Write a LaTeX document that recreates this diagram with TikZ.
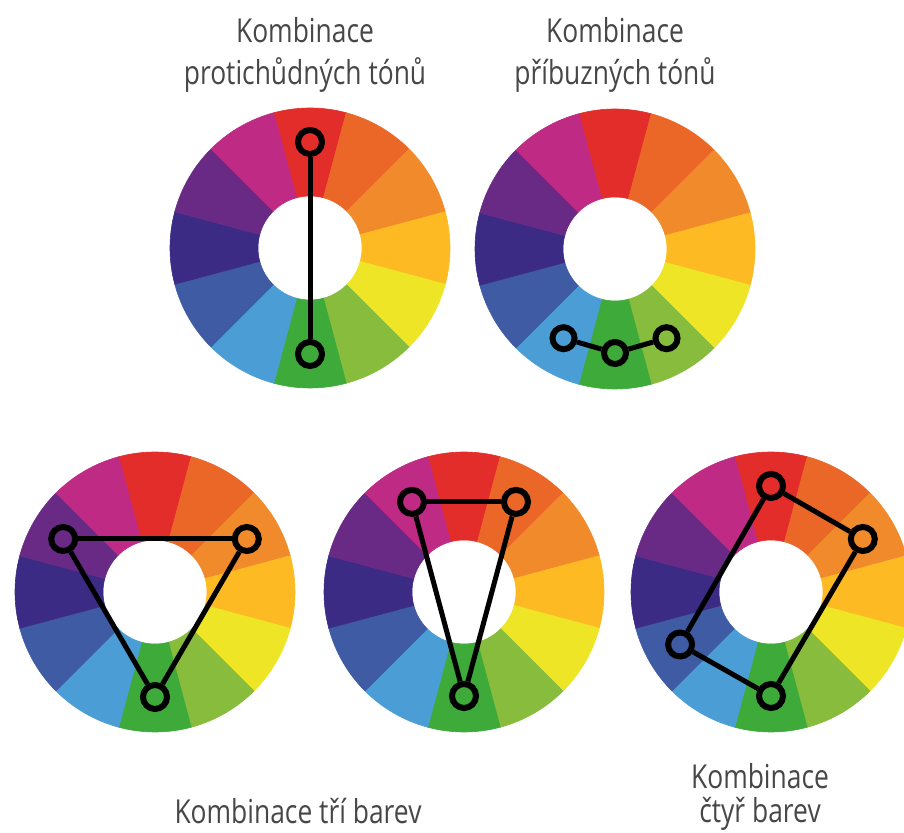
\documentclass[tikz,border=0pt]{standalone}
\usepackage{fontspec}
\setmainfont{Open Sans}[FakeStretch=0.8]
\definecolor{wred}{HTML}{E32D2A}
\definecolor{worr}{HTML}{EB6728}
\definecolor{wor}{HTML}{F08A2B}
\definecolor{wyo}{HTML}{FDBA23}
\definecolor{wyel}{HTML}{EDE526}
\definecolor{wyg}{HTML}{88BC3C}
\definecolor{wgr}{HTML}{3DAA3A}
\definecolor{wlb}{HTML}{4B9ED5}
\definecolor{wbl}{HTML}{3E5BA3}
\definecolor{win}{HTML}{3C2B84}
\definecolor{wpu}{HTML}{692A86}
\definecolor{wma}{HTML}{BE2A84}
\definecolor{labgray}{HTML}{474747}
\newcommand\huewheel{%
  \foreach \c [count=\i from 0] in {wred,worr,wor,wyo,wyel,wyg,wgr,wlb,wbl,win,wpu,wma} {
    \pgfmathsetmacro\a{90-30*\i}
    \fill[\c, draw=\c, line width=0.6pt] (\a+15:140) arc[start angle=\a+15, end angle=\a-15, radius=140]
      -- (\a-15:52) arc[start angle=\a-15, end angle=\a+15, radius=52] -- cycle;
  }%
}
\tikzset{
  ring/.style={circle, draw=black, line width=6pt, minimum size=24pt, inner sep=0pt},
  smallring/.style={ring, minimum size=22pt},
  link/.style={draw=black, line width=5pt},
  lab/.style={text=labgray, align=center, font=\fontsize{33}{42}\selectfont, inner sep=0pt},
  labtight/.style={lab, font=\fontsize{33}{34}\selectfont}
}
\begin{document}
\begin{tikzpicture}[x=1pt,y=1pt]
\useasboundingbox (0,0) rectangle (904,832);
\fill[white] (0,0) rectangle (904,832);

% wheel 1: complementary
\begin{scope}[shift={(310,584)}]
  \huewheel
  \node[ring] (a1) at (90:106) {};
  \node[ring] (a2) at (-90:106) {};
  \draw[link] (a1) -- (a2);
\end{scope}

% wheel 2: analogous
\begin{scope}[shift={(615,583)}]
  \huewheel
  \node[smallring] (b1) at (-120:103) {};
  \node[smallring] (b2) at (-90:104) {};
  \node[smallring] (b3) at (-60:103) {};
  \draw[link] (b1) -- (b2);
  \draw[link] (b2) -- (b3);
\end{scope}

% wheel 3: triad
\begin{scope}[shift={(155,240)}]
  \huewheel
  \node[ring] (c1) at (150:106) {};
  \node[ring] (c2) at (30:106) {};
  \node[ring] (c3) at (-90:105) {};
  \draw[link] (c1) -- (c2);
  \draw[link] (c2) -- (c3);
  \draw[link] (c3) -- (c1);
\end{scope}

% wheel 4: split complementary
\begin{scope}[shift={(464,240)}]
  \huewheel
  \node[ring] (d1) at (120:104) {};
  \node[ring] (d2) at (60:104) {};
  \node[ring] (d3) at (-90:104) {};
  \draw[link] (d1) -- (d2);
  \draw[link] (d2) -- (d3);
  \draw[link] (d3) -- (d1);
\end{scope}

% wheel 5: tetrad
\begin{scope}[shift={(771,240)}]
  \huewheel
  \node[ring] (e1) at (90:106) {};
  \node[ring] (e2) at (30:106) {};
  \node[ring] (e3) at (-90:104) {};
  \node[ring] (e4) at (-150:105) {};
  \draw[link] (e1) -- (e2);
  \draw[link] (e2) -- (e3);
  \draw[link] (e3) -- (e4);
  \draw[link] (e4) -- (e1);
\end{scope}

% labels (anchor=base is the baseline of the last line)
\node[lab, anchor=base] (t1) at (305,747) {Kombinace\\protichůdných tónů};
\node[lab, anchor=base] (t2) at (615,747) {Kombinace\\příbuzných tónů};
\node[lab, anchor=base] (t3) at (298,9) {Kombinace tří barev};
\node[labtight, anchor=base] (t4) at (760,10) {Kombinace\\čtyř barev};
\end{tikzpicture}
\end{document}
